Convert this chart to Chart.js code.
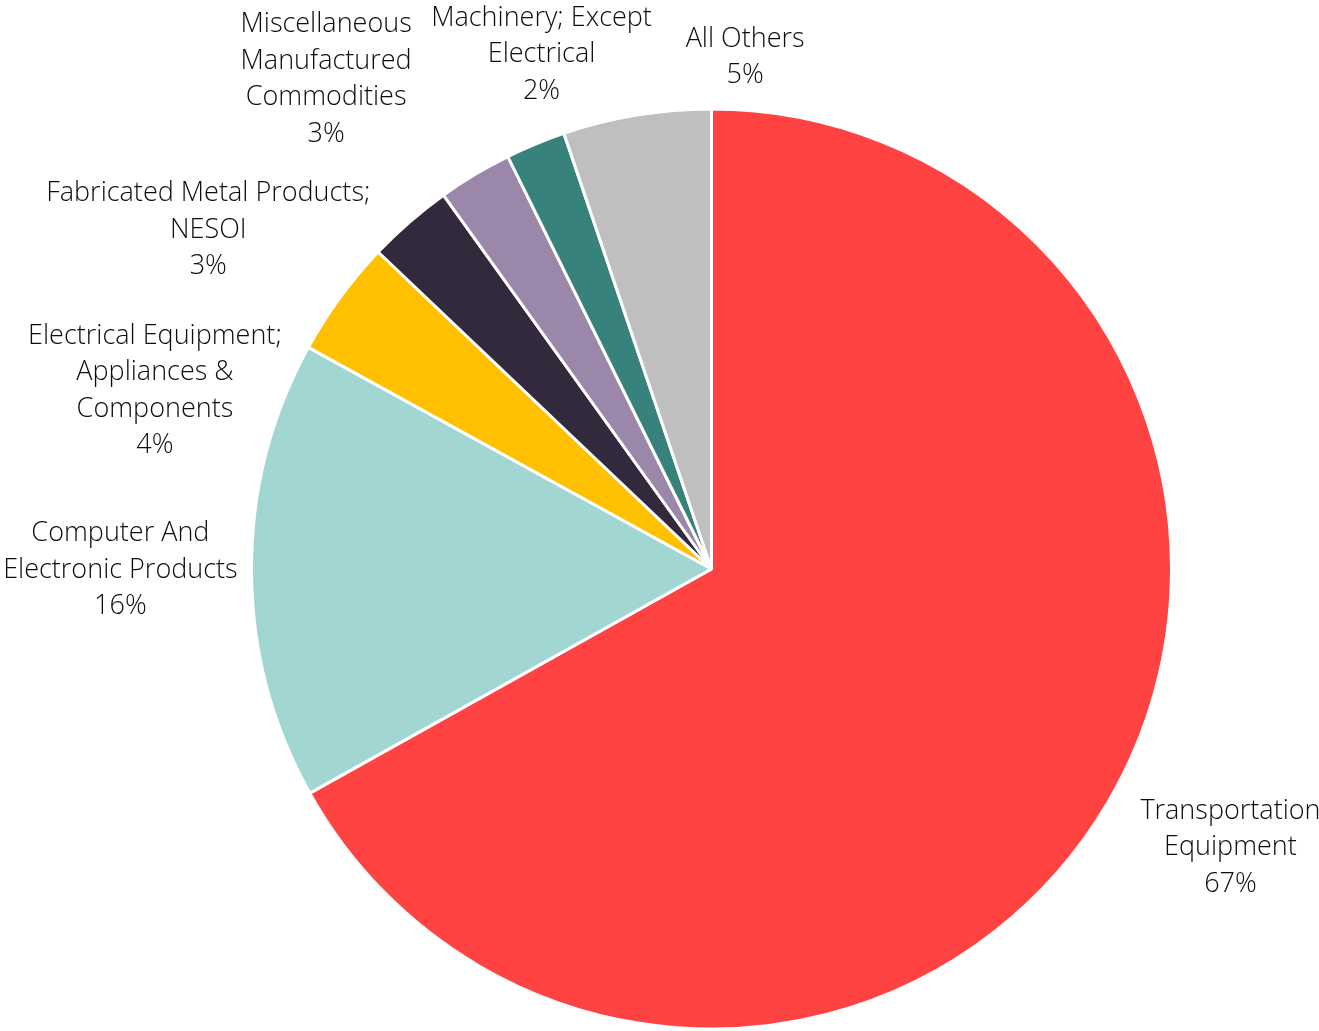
<!DOCTYPE html>
<html>
<head>
<meta charset="utf-8">
<script src="https://cdn.jsdelivr.net/npm/chart.js@4/dist/chart.umd.min.js"></script>
<style>
  html, body { margin: 0; padding: 0; background: #ffffff; }
  #wrap { width: 1319px; height: 1031px; }
</style>
</head>
<body>
<div id="wrap"><canvas id="c" width="1319" height="1031"></canvas></div>
<script>
// ---- Data ----
const categories = [
  ["Transportation", "Equipment"],
  ["Computer And", "Electronic Products"],
  ["Electrical Equipment;", "Appliances &", "Components"],
  ["Fabricated Metal Products;", "NESOI"],
  ["Miscellaneous", "Manufactured", "Commodities"],
  ["Machinery; Except", "Electrical"],
  ["All Others"]
];
const shares = [66.9, 16.1, 4.1, 3.0, 2.6, 2.1, 5.2];
const colors = ["#FF4343", "#A1D6D2", "#FFC000", "#322A3C", "#9A87AA", "#37837B", "#BFBFBF"];

// ---- Label layout (angle offset from slice middle in degrees, distance in radii) ----
const labelAngleOffset = [-2.4, 0.3, -18.2, -14.8, -7.1, 4.3, 13.1];
const labelDistance = [1.278, 1.285, 1.272, 1.322, 1.359, 1.183, 1.12];

const labelPlugin = {
  id: 'outsideLabels',
  afterDatasetsDraw(chart) {
    const ctx = chart.ctx;
    const meta = chart.getDatasetMeta(0);
    const total = shares.reduce((a, b) => a + b, 0);
    ctx.save();
    ctx.font = '300 27px "Open Sans", Lato, sans-serif';
    ctx.fillStyle = '#0d0d0d';
    ctx.textAlign = 'center';
    ctx.textBaseline = 'middle';
    const lh = 36.5;
    const baselineShift = 2.5;
    meta.data.forEach((arc, i) => {
      const p = arc.getProps(['x', 'y', 'startAngle', 'endAngle', 'outerRadius'], true);
      const mid = (p.startAngle + p.endAngle) / 2 + labelAngleOffset[i] * Math.PI / 180;
      const d = p.outerRadius * labelDistance[i];
      const cx = p.x + Math.cos(mid) * d;
      const cy = p.y + Math.sin(mid) * d + baselineShift;
      const lines = categories[i].concat([Math.round(shares[i] / total * 100) + '%']);
      const top = cy - (lines.length - 1) * lh / 2;
      lines.forEach((t, k) => ctx.fillText(t, cx, top + k * lh));
    });
    ctx.restore();
  }
};

new Chart(document.getElementById('c'), {
  type: 'pie',
  data: {
    labels: categories,
    datasets: [{
      data: shares,
      backgroundColor: colors,
      borderColor: '#ffffff',
      borderWidth: 3
    }]
  },
  options: {
    responsive: false,
    animation: false,
    layout: { padding: { left: 250, right: 146, top: 107, bottom: 0 } },
    plugins: {
      legend: { display: false },
      tooltip: { enabled: false },
      title: { display: false }
    }
  },
  plugins: [labelPlugin]
});
</script>
</body>
</html>
